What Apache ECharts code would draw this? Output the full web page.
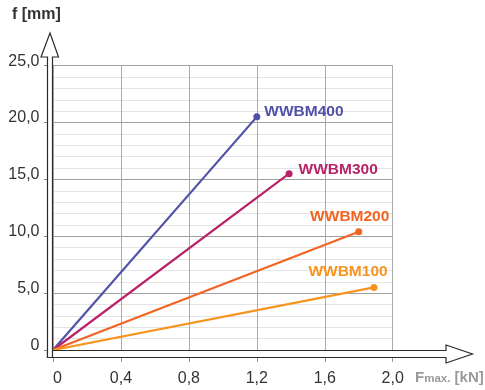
<!DOCTYPE html>
<html>
<head>
<meta charset="utf-8">
<script src="https://cdn.jsdelivr.net/npm/echarts@6/dist/echarts.min.js"></script>
<style>
  html, body { margin: 0; background: #fff; }
  #main { width: 485px; height: 390px; }
</style>
</head>
<body>
<div id="main"></div>
<script>
// load curves: start at origin, end at max force
var models = ['WWBM400', 'WWBM300', 'WWBM200', 'WWBM100'];
var maxForce = [1.2, 1.39, 1.8, 1.89];      // kN
var maxDeflection = [20.5, 15.5, 10.4, 5.5]; // mm
var colors = ['#5151a8', '#b8236a', '#f26424', '#f7941e'];
var labelOffsets = [['right', [0, -5]], ['right', [2, -4]], ['top', [-9, 0]], ['top', [-26, 0]]];

function comma(v) {
  if (v === 0) return '0';
  return (+v).toFixed(1).replace('.', ',');
}

var chart = echarts.init(document.getElementById('main'));

var series = models.map(function (name, i) {
  return {
    name: name,
    type: 'line',
    z: 3,
    symbol: 'circle',
    symbolSize: 7,
    lineStyle: { color: colors[i], width: 2.2 },
    itemStyle: { color: colors[i] },
    data: [
      { value: [0, 0], symbol: 'none' },
      {
        value: [maxForce[i], maxDeflection[i]],
        label: {
          show: true,
          formatter: name,
          position: labelOffsets[i][0],
          offset: labelOffsets[i][1],
          distance: 4,
          color: colors[i],
          fontFamily: 'Liberation Sans, Arial, sans-serif',
          fontWeight: 'bold',
          fontSize: 15.5
        }
      }
    ]
  };
});

chart.setOption({
  animation: false,
  grid: { left: 53, right: 92.3, top: 65.7, bottom: 40, containLabel: false },
  xAxis: {
    type: 'value',
    min: 0,
    max: 2,
    interval: 0.4,
    axisLine: { show: false },
    axisTick: { show: true, length: 12, lineStyle: { color: '#999' } },
    axisLabel: {
      margin: 21,
      color: '#333',
      fontSize: 16,
      alignMinLabel: 'left',
      fontFamily: 'Liberation Sans, Arial, sans-serif',
      formatter: function (v) { return comma(v); }
    },
    splitLine: { show: true, lineStyle: { color: '#ababab', width: 1 } }
  },
  yAxis: {
    type: 'value',
    min: 0,
    max: 25,
    interval: 5,
    axisLine: { show: false },
    axisTick: { show: true, length: 9, lineStyle: { color: '#888' } },
    axisLabel: {
      margin: 13.5,
      color: '#333',
      fontSize: 16,
      verticalAlign: 'bottom',
      lineHeight: 9,
      fontFamily: 'Liberation Sans, Arial, sans-serif',
      formatter: function (v) { return comma(v); }
    },
    splitLine: { show: true, lineStyle: { color: '#a0a0a0', width: 1 } },
    minorTick: { show: false, splitNumber: 5 },
    minorSplitLine: { show: true, lineStyle: { color: '#e4e4e4', width: 1 } }
  },
  graphic: [
    // hollow x axis arrow
    {
      type: 'polygon', z: 10,
      shape: { points: [[47.5, 350.5], [446, 350.5], [446, 345], [472.5, 354], [446, 363], [446, 357.5], [47.5, 357.5]] },
      style: { fill: '#fff', stroke: '#2b2b2b', lineWidth: 1.2 }
    },
    // hollow y axis arrow
    {
      type: 'polygon', z: 11,
      shape: { points: [[47.5, 357.5], [47.5, 57], [41, 57], [50, 33], [58.5, 57], [52.5, 57], [52.5, 357.5]] },
      style: { fill: '#fff', stroke: '#2b2b2b', lineWidth: 1.2 }
    },
    {
      type: 'text', z: 12, left: 12, top: 7,
      style: {
        text: 'f [mm]', fill: '#333', fontSize: 16, fontWeight: 'bold',
        fontFamily: 'Liberation Sans, Arial, sans-serif'
      }
    },
    {
      type: 'text', z: 12, left: 415, top: 370,
      style: {
        text: '{a|F}{b|max.}{a| [kN]}',
        rich: {
          a: { fill: '#9a9a9a', fontSize: 15, fontWeight: 'bold', fontFamily: 'Liberation Sans, Arial, sans-serif', verticalAlign: 'bottom' },
          b: { fill: '#9a9a9a', fontSize: 11.5, fontWeight: 'bold', fontFamily: 'Liberation Sans, Arial, sans-serif', verticalAlign: 'bottom' }
        }
      }
    }
  ],
  series: series
});
</script>
</body>
</html>
